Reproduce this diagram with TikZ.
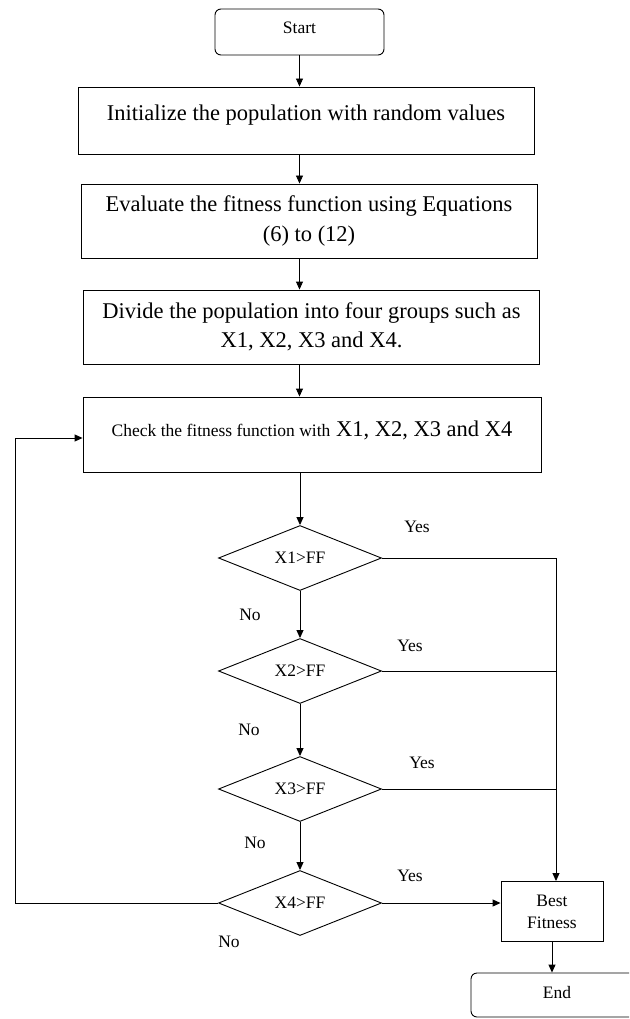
\documentclass[tikz,border=0pt]{standalone}
\usepackage{fontspec}
\setmainfont{Liberation Serif}
\usetikzlibrary{shapes.geometric, arrows.meta, positioning}

\newcommand{\bigtxt}{\fontsize{22.5}{29.5}\selectfont}
\newcommand{\smalltxt}{\fontsize{17.5}{22}\selectfont}

\begin{document}
\begin{tikzpicture}[x=1pt, y=-1pt, line width=0.9pt,
    every node/.style={inner sep=0pt, font=\smalltxt},
    procbox/.style={draw, rectangle, minimum width=456pt, align=center, font=\bigtxt},
    termbox/.style={draw, rectangle, rounded corners=6pt},
    decision/.style={draw, diamond, minimum width=163pt, minimum height=65pt},
    arr/.style={-{Triangle[length=8pt, width=7pt]}}]
    \useasboundingbox (0,0) rectangle (629,1019);
    \clip (0,0) rectangle (629,1019);

    % main column
    \node[termbox, minimum width=169pt, minimum height=46pt, text depth=9pt] (start) at (299.5,32) {Start};
    \node[procbox, minimum height=67pt, text depth=16pt] (init) at (306,120.5) {Initialize the population with random values};
    \node[procbox, minimum height=74pt] (eval) at (309,221) {Evaluate the fitness function using Equations\\(6) to (12)};
    \node[procbox, minimum height=74pt] (divide) at (311.5,327) {Divide the population into four groups such as\\X1, X2, X3 and X4.};
    \node[procbox, minimum width=458pt, minimum height=75pt, text depth=12pt] (check) at (312,434.5) {{\smalltxt Check the fitness function with} X1, X2, X3 and X4};

    % decisions
    \foreach \k/\yy in {1/558, 2/671, 3/789, 4/903} {
        \node[decision] (d\k) at (300,\yy) {X\k>FF};
    }
    \foreach \k/\xa/\ya/\xb/\yb in {1/417/527/250/615, 2/410/646/249/730, 3/422/763/255/843, 4/410/876/229/942} {
        \node (yes\k) at (\xa,\ya) {Yes};
        \node (no\k) at (\xb,\yb) {No};
    }

    \node[draw, minimum width=102pt, minimum height=60pt, align=center] (best) at (552,911.5) {Best\\Fitness};
    \node[termbox, minimum width=172pt, minimum height=44pt, text depth=6pt] (end) at (557,995) {End};

    % connectors
    \draw[arr] (start.south) -- (start.south |- init.north);
    \draw[arr] (init.south -| start) -- (start |- eval.north);
    \draw[arr] (eval.south -| start) -- (start |- divide.north);
    \draw[arr] (divide.south -| start) -- (start |- check.north);
    \draw[arr] (check.south -| d1) -- (d1.north);
    \foreach \a/\b in {1/2, 2/3, 3/4} {
        \draw[arr] (d\a.south) -- (d\b.north);
    }

    \coordinate (trunk) at (556,558);
    \foreach \k in {1,2,3} {
        \draw (d\k.east) -- (d\k.east -| trunk);
    }
    \draw[arr] (trunk) -- (trunk |- best.north);
    \draw[arr] (d4.east) -- (d4.east -| best.west);

    \coordinate (loop) at (15,438);
    \draw[arr] (d4.west) -- (d4.west -| loop) -- (loop) -- (loop -| check.west);
    \draw[arr] (best.south) -- (best.south |- end.north);
\end{tikzpicture}
\end{document}
